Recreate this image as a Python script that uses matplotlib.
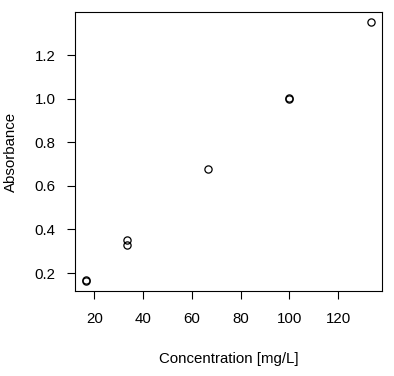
import matplotlib
matplotlib.use("Agg")
import matplotlib.pyplot as plt

conc = [16.67, 16.67, 33.33, 33.33, 66.67, 100.0, 100.0, 133.33]
absorb = [0.165, 0.168, 0.330, 0.352, 0.675, 0.998, 1.001, 1.350]
xticks = [20, 40, 60, 80, 100, 120]
yticks = [0.2, 0.4, 0.6, 0.8, 1.0, 1.2]

plt.rcParams['font.family'] = ['Liberation Sans', 'DejaVu Sans']
fig = plt.figure(figsize=(3.94, 3.76), dpi=100)
ax = fig.add_axes([75/394, 1-291/376, (382-75)/394, (291-12)/376])
ax.plot(conc, absorb, linestyle='none', marker='o', markersize=5.2,
        markerfacecolor='none', markeredgecolor='black', markeredgewidth=0.9)

xmin, xmax = min(conc), max(conc)
ymin, ymax = min(absorb), max(absorb)
dx = (xmax - xmin) * 0.04
dy = (ymax - ymin) * 0.04
ax.set_xlim(xmin - dx, xmax + dx)
ax.set_ylim(ymin - dy, ymax + dy)
ax.set_xticks(xticks)
ax.set_yticks(yticks)
ax.set_xticklabels([str(v) for v in xticks])
ax.set_yticklabels([f"{v:.1f}" for v in yticks])
for s in ax.spines.values():
    s.set_linewidth(0.8)
ax.tick_params(length=6, width=0.8, labelsize=10.8, colors='black')
ax.tick_params(axis='x', pad=9)
ax.tick_params(axis='y', pad=8)
ax.set_xlabel("Concentration [mg/L]", fontsize=10.8, labelpad=19)
ax.set_ylabel("Absorbance", fontsize=10.8, labelpad=12)
fig.savefig("out.png", dpi=100)
